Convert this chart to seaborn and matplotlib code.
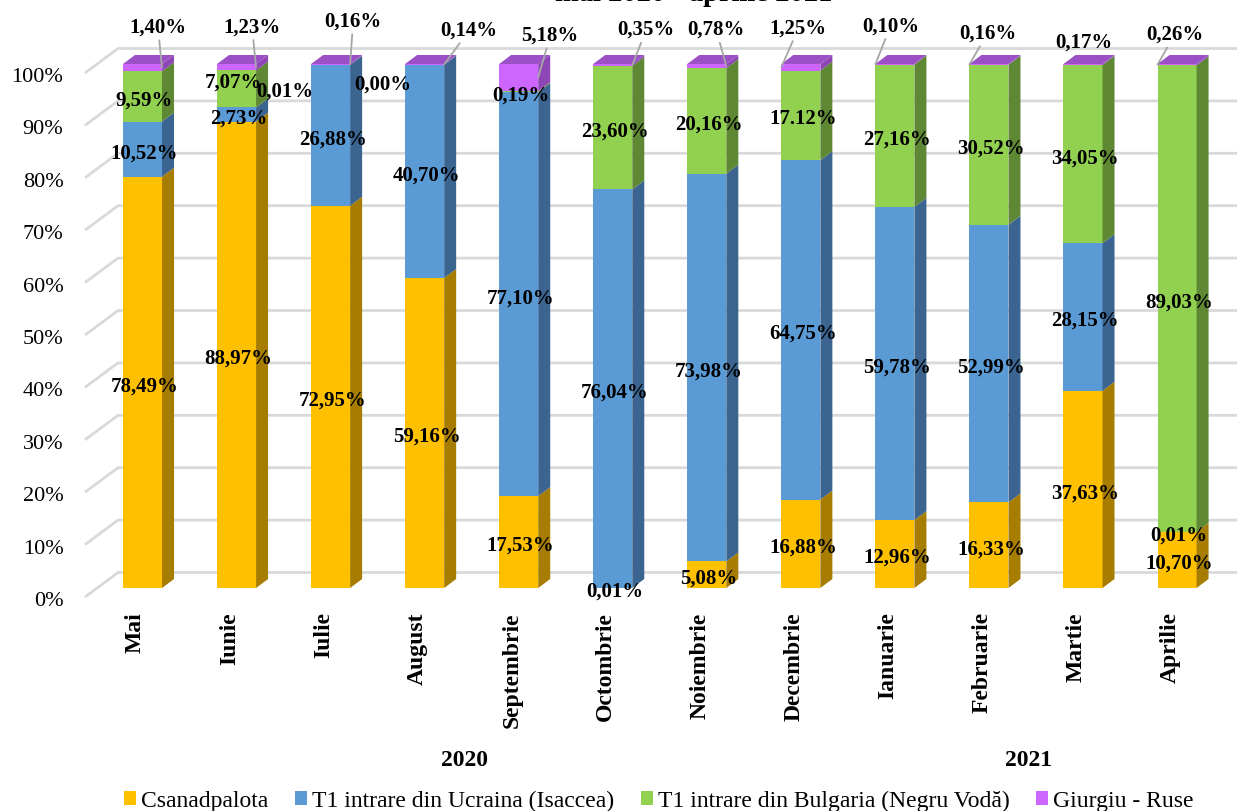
import numpy as np
import pandas as pd
import matplotlib
matplotlib.use('Agg')
import matplotlib.pyplot as plt
from matplotlib.patches import Polygon, Patch
from matplotlib.transforms import ScaledTranslation, blended_transform_factory
import seaborn as sns

# date
luni = ['Mai', 'Iunie', 'Iulie', 'August', 'Septembrie', 'Octombrie',
        'Noiembrie', 'Decembrie', 'Ianuarie', 'Februarie', 'Martie', 'Aprilie']
ani = ['2020', '2021']
luni_pe_an = [8, 4]
serii = ['Csanadpalota', 'T1 intrare din Ucraina (Isaccea)',
         'T1 intrare din Bulgaria (Negru Vodă)', 'Giurgiu - Ruse']
csanadpalota = [78.49, 88.97, 72.95, 59.16, 17.53, 0.01, 5.08, 16.88, 12.96, 16.33, 37.63, 10.70]
ucraina = [10.52, 2.73, 26.88, 40.70, 77.10, 76.04, 73.98, 64.75, 59.78, 52.99, 28.15, 0.01]
bulgaria = [9.59, 7.07, 0.01, 0.00, 0.19, 23.60, 20.16, 17.12, 27.16, 30.52, 34.05, 89.03]
giurgiu = [1.40, 1.23, 0.16, 0.14, 5.18, 0.35, 0.78, 1.25, 0.10, 0.16, 0.17, 0.26]
titlu = 'mai 2020 - aprilie 2021'

culori = ['#FFC000', '#5B9BD5', '#92D050', '#CC66FF']
culori_laterale = ['#A67D00', '#3B6590', '#5E8833', '#8E45B5']
culoare_sus = '#9B50C6'
gri = '#D9D9D9'

vals = np.array([csanadpalota, ucraina, bulgaria, giurgiu])
vals = vals / vals.sum(axis=0) * 100
cum = np.cumsum(vals, axis=0)

df = pd.DataFrame({'luna': luni})
for k, s in enumerate(serii):
    df[s] = cum[k]

fig = plt.figure(figsize=(12.37, 8.11), dpi=100)
plt.rcParams['font.family'] = ['Liberation Serif', 'DejaVu Serif']
W, H = 1237, 811
px_unit = 94.05   # pixeli pe categorie
px_pct = 5.24     # pixeli pe 1%
x0 = -57.5 / px_unit
ax = fig.add_axes([85 / W, 223 / H, 1152 / W, 524 / H])

latime = 0.415
for k in reversed(range(4)):
    sns.barplot(data=df, x='luna', y=serii[k], color=culori[k], saturation=1,
                width=latime, linewidth=0, ax=ax, zorder=3)

ax.set_xlim(x0, x0 + 1152 / px_unit)
ax.set_ylim(0, 100)
for sp in ax.spines.values():
    sp.set_visible(False)
ax.set_xlabel('')
ax.set_ylabel('')

# efect 3D
dx = 12 / px_unit
dy = 9 / px_pct
for i in range(len(luni)):
    xl, xr = i - latime / 2, i + latime / 2
    jos = 0
    for k in range(4):
        sus = cum[k, i]
        if sus - jos > 0.005:
            ax.add_patch(Polygon([(xr, jos), (xr + dx, jos + dy), (xr + dx, sus + dy), (xr, sus)],
                                 closed=True, color=culori_laterale[k], lw=0, zorder=3, clip_on=False))
        jos = sus
    ax.add_patch(Polygon([(xl, 100), (xl + dx, 100 + dy), (xr + dx, 100 + dy), (xr, 100)],
                         closed=True, color=culoare_sus, lw=0, zorder=3, clip_on=False))

# grila (perete lateral + perete spate)
fata = -9 / px_pct
spate = 15.5 / px_pct
xw = x0 + 33 / px_unit
for v in range(0, 101, 10):
    ax.plot([x0, xw, x0 + 1152 / px_unit], [v + fata, v + spate, v + spate],
            color=gri, lw=2, zorder=1, clip_on=False, solid_capstyle='butt')

ax.set_yticks(range(0, 101, 10), [f'{v}%' for v in range(0, 101, 10)], fontsize=16)
ax.tick_params(axis='y', length=0, pad=15.5)
for t in ax.get_yticklabels():
    t.set_transform(t.get_transform() + ScaledTranslation(0, -11 / 100, fig.dpi_scale_trans))
ax.set_xticks(range(len(luni)), luni, rotation=90, fontsize=17, fontweight='bold')
ax.tick_params(axis='x', length=0, pad=17.5)
for t in ax.get_xticklabels():
    t.set_transform(t.get_transform() + ScaledTranslation(-7 / 100, 0, fig.dpi_scale_trans))

# etichete
etichete_speciale = {(2, 7): '17.12%'}
deplasari = {(2, 2): (-48, -23), (2, 3): (-44, -16), (2, 1): (-5, 10)}
eticheta_font = dict(fontsize=15, fontweight='bold', ha='center', va='center', zorder=5)
for k in range(3):
    for i in range(len(luni)):
        jos = cum[k - 1, i] if k > 0 else 0
        mij = (jos + cum[k, i]) / 2
        txt = etichete_speciale.get((k, i), f'{[csanadpalota, ucraina, bulgaria][k][i]:.2f}%'.replace('.', ','))
        ddx, ddy = deplasari.get((k, i), (0, 0))
        ax.annotate(txt, (i, mij), xytext=(2 + ddx, -4 + ddy), textcoords='offset pixels',
                    annotation_clip=False, **eticheta_font)

# etichete Giurgiu - Ruse cu linii de legatura
pozitii_giurgiu = [(-4, 40), (-4, 40), (3, 43), (25, 34), (12, 42), (14, 35),
                   (-10, 36), (17, 39), (15, 38), (18, 31), (20, 22), (17, 30)]
ancora_dreapta = [True] * 7 + [False] * 5
cu_linie = [True] * 10 + [False, True]
for i in range(len(luni)):
    mij = (cum[2, i] + 100) / 2
    xa = i + latime / 2 if ancora_dreapta[i] else i - latime / 2
    txt = f'{giurgiu[i]:.2f}%'.replace('.', ',')
    ap = dict(arrowstyle='-', color='#A6A6A6', lw=1.3, shrinkA=0, shrinkB=0) if cu_linie[i] else None
    ax.annotate(txt, (xa, mij), xytext=pozitii_giurgiu[i], textcoords='offset pixels',
                arrowprops=ap, annotation_clip=False, **eticheta_font)

# ani
tr = blended_transform_factory(ax.transData, fig.transFigure)
start = 0
for an, n in zip(ani, luni_pe_an):
    ax.text((start + start + n - 1) / 2 - 7 / px_unit, 51 / H, an, transform=tr,
            ha='center', va='center', fontsize=17, fontweight='bold')
    start += n

fig.text(694 / W, 1 - 1 / H, titlu, ha='center', va='baseline', fontsize=20.5, fontweight='bold')

handles = [Patch(facecolor=c, edgecolor='none', label=s) for c, s in zip(culori, serii)]
fig.legend(handles=handles, loc='center', bbox_to_anchor=(659 / W, 10 / H), ncol=4,
           frameon=False, fontsize=17, handlelength=0.5, handleheight=0.5,
           handletextpad=0.22, columnspacing=1.13, borderpad=0)

fig.savefig('out.png', dpi=100, facecolor='white')
